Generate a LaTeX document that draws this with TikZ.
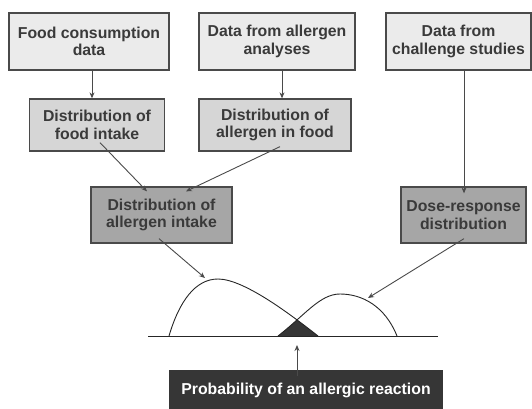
\documentclass[tikz,border=0pt]{standalone}
\usepackage{fontspec}
\setmainfont{Liberation Sans}
\usetikzlibrary{arrows.meta}
\definecolor{boxlight}{HTML}{EBEBEB}
\definecolor{boxmid}{HTML}{D6D6D6}
\definecolor{boxdark}{HTML}{A6A6A6}
\definecolor{boxblack}{HTML}{363636}
\definecolor{ink}{HTML}{3A3A3A}
\definecolor{edge}{HTML}{4A4A4A}
\begin{document}
\begin{tikzpicture}[x=1pt,y=-1pt,
  box/.style={draw=edge, line width=1.3pt, align=center, inner sep=0pt,
    text=ink, font=\fontsize{15.8}{17.5}\selectfont\bfseries},
  lightbox/.style={box, fill=boxlight},
  midbox/.style={box, fill=boxmid},
  darkbox/.style={box, fill=boxdark},
  conn/.style={draw=edge, line width=0.9pt, -{Stealth[length=6pt,width=5pt]}},
  curve/.style={draw=black!85, line width=0.9pt}
]
\useasboundingbox (0,0) rectangle (532,409);

% input data
\node[lightbox, minimum width=160pt, minimum height=57pt] (food) at (89,41.5) {Food consumption\\data};
\node[lightbox, minimum width=156pt, minimum height=57pt] (anal) at (277,41.5) {Data from allergen\\analyses};
\node[lightbox, minimum width=145pt, minimum height=57pt] (chal) at (458.5,41.5) {Data from\\challenge studies};

% derived distributions
\node[midbox, minimum width=135pt, minimum height=52pt] (intake) at (97,125) {Distribution of\\food intake};
\node[midbox, minimum width=152pt, minimum height=52pt] (infood) at (275,125) {Distribution of\\allergen in food};
\node[darkbox, minimum width=141pt, minimum height=56pt] (allint) at (161.5,215) {Distribution of\\allergen intake};
\node[darkbox, minimum width=125pt, minimum height=56pt] (dose) at (463.5,215) {Dose-response\\distribution};

% result
\node[fill=boxblack, text=white, minimum width=274pt, minimum height=41pt, inner sep=0pt,
  font=\fontsize{15.8}{17.5}\selectfont\bfseries] (prob) at (306,390.5) {Probability of an allergic reaction};

% the two overlapping distributions
\coordinate (lstart) at (169,336);
\coordinate (lpeak) at (218,279);
\coordinate (lend) at (318,336);
\coordinate (rstart) at (278,336);
\coordinate (rpeak) at (340,294);
\coordinate (rend) at (397,336);
\coordinate (axl) at (148,336);
\coordinate (axr) at (438,336);

\def\leftdist{(lstart) .. controls (179,302) and (195,279) .. (lpeak)
  .. controls (245,279) and (295,318) .. (lend)}
\def\rightdist{(rstart) .. controls (305,315) and (320,294) .. (rpeak)
  .. controls (362,294) and (385,306) .. (rend)}

% overlap of the two areas
\begin{scope}
  \clip \rightdist -- cycle;
  \fill[boxblack] \leftdist -- cycle;
\end{scope}
\draw[curve] (axl) -- (axr);
\draw[curve] \leftdist;
\draw[curve] \rightdist;

% connectors
\draw[conn] ([xshift=3pt]food.south) -- ([xshift=3pt]food.south |- intake.north);
\draw[conn] ([xshift=5pt]anal.south) -- ([xshift=5pt]anal.south |- infood.north);
\draw[conn] ([xshift=5.5pt]chal.south) -- ([xshift=5.5pt,yshift=-7pt]chal.south |- dose.north);
\draw[conn] ([xshift=3pt,yshift=9pt]intake.south) -- ([xshift=-14.5pt,yshift=-5pt]allint.north);
\draw[conn] ([xshift=5pt,yshift=5pt]infood.south) -- ([xshift=24.5pt,yshift=-5pt]allint.north);
\draw[conn] ([xshift=-2.5pt,yshift=5pt]allint.south) -- (205,278);
\draw[conn] ([xshift=0.5pt,yshift=5pt]dose.south) -- (368,298);
\draw[conn] ([xshift=-9pt,yshift=-6pt]prob.north) -- (297,345);
\end{tikzpicture}
\end{document}
